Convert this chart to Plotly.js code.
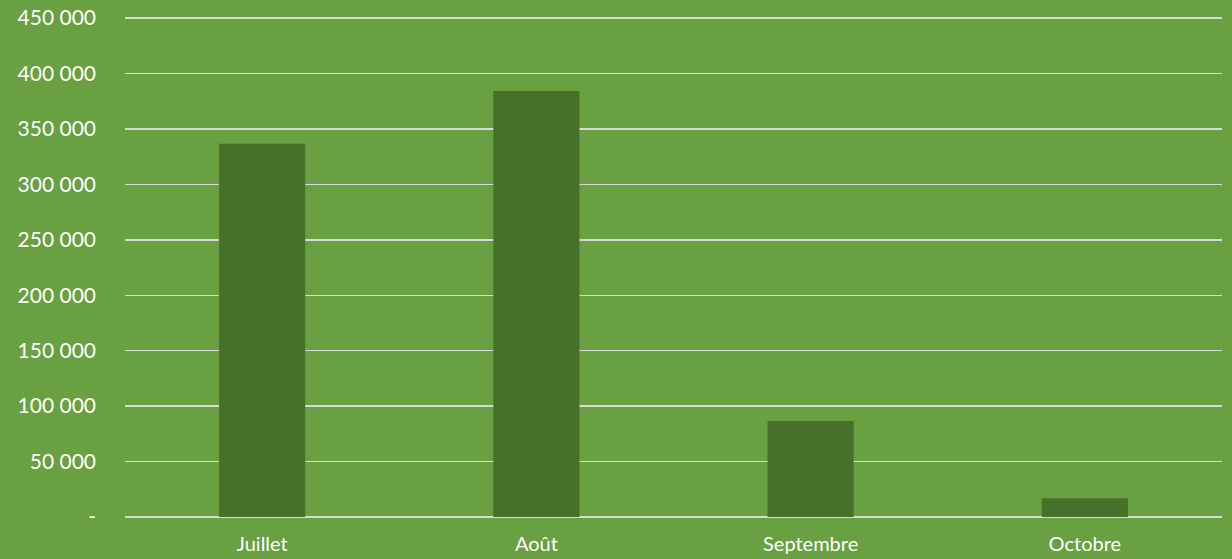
<!DOCTYPE html>
<html>
<head>
<meta charset="utf-8">
<script src="https://cdn.plot.ly/plotly-3.0.1.min.js"></script>
<style>html,body{margin:0;padding:0;background:#68A042;}#chart{width:1232px;height:559px;}</style>
</head>
<body>
<div id="chart"></div>
<script>
const months = ["Juillet", "Août", "Septembre", "Octobre"];
const values = [336600, 384200, 86600, 16800];
const yTickVals = [0, 50000, 100000, 150000, 200000, 250000, 300000, 350000, 400000, 450000];
const yTickText = ["-", "50 000", "100 000", "150 000", "200 000", "250 000", "300 000", "350 000", "400 000", "450 000"];

Plotly.newPlot("chart", [{
  type: "bar",
  x: months,
  y: values,
  width: 0.314,
  marker: {color: "#47712B"},
  hoverinfo: "x+y"
}], {
  width: 1232,
  height: 559,
  paper_bgcolor: "#68A042",
  plot_bgcolor: "#68A042",
  margin: {l: 125, r: 10, t: 17, b: 42},
  font: {family: "Lato, 'Open Sans', sans-serif", size: 21, color: "#FFFFFF"},
  showlegend: false,
  xaxis: {
    showgrid: false,
    zeroline: false,
    showline: false,
    ticks: "",
    automargin: false,
    ticklabelstandoff: 13,
    tickfont: {size: 20, color: "#FFFFFF"}
  },
  yaxis: {
    range: [0, 451000],
    tickvals: yTickVals,
    ticktext: yTickText,
    showgrid: true,
    gridcolor: "#D9D9D9",
    gridwidth: 1.5,
    zeroline: true,
    zerolinecolor: "#D9D9D9",
    zerolinewidth: 1.5,
    showline: false,
    ticks: "",
    automargin: false,
    ticklabelstandoff: 28,
    tickfont: {size: 21, color: "#FFFFFF"}
  }
}, {displayModeBar: false, staticPlot: true});
</script>
</body>
</html>
